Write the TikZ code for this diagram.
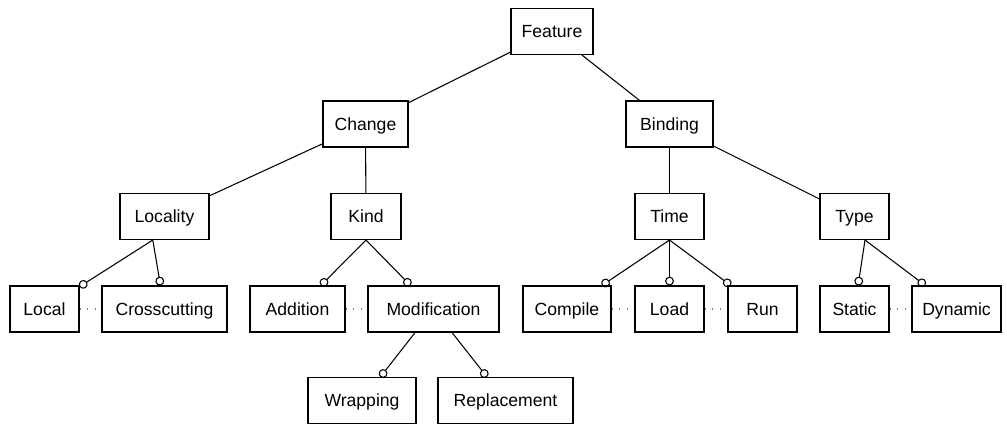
\documentclass[tikz,border=0pt]{standalone}
\usepackage{fontspec}
\setmainfont{Liberation Sans}
\usetikzlibrary{arrows.meta,calc}
\begin{document}
\begin{tikzpicture}[x=0.75pt,y=-0.75pt,
  feat/.style={draw, line width=0.8pt, inner sep=0pt, minimum height=34.5pt,
    text height=9.45pt, text depth=0pt,
    font=\fontsize{13.2}{15}\selectfont},
  mw/.style={minimum width=#1*0.75pt},
  link/.style={line width=0.8pt},
  opt/.style={line width=0.8pt, -{Circle[open,length=6.6pt,width=6.6pt]}},
  alt/.style={gray, line width=0.8pt, dash pattern=on 0.8pt off 5pt}]
\useasboundingbox (0,0) rectangle (1007,424);
% level 0
\node[feat,mw=82] (feature) at (552,31.5) {Feature};
% level 1
\node[feat,mw=85] (change) at (365.5,124) {Change};
\node[feat,mw=87] (binding) at (669.5,124) {Binding};
% level 2
\node[feat,mw=89] (locality) at (164.5,216.5) {Locality};
\node[feat,mw=70] (kind) at (366,216.5) {Kind};
\node[feat,mw=69] (time) at (669.5,216.5) {Time};
\node[feat,mw=69] (type) at (854.5,216.5) {Type};
% level 3
\node[feat,mw=69] (local) at (44.5,309) {Local};
\node[feat,mw=125] (cross) at (164.5,309) {Crosscutting};
\node[feat,mw=95] (addition) at (297.5,309) {Addition};
\node[feat,mw=131] (modif) at (433.5,309) {Modification};
\node[feat,mw=88] (compile) at (567,309) {Compile};
\node[feat,mw=69] (load) at (669.5,309) {Load};
\node[feat,mw=69] (run) at (762.5,309) {Run};
\node[feat,mw=69] (static) at (854.5,309) {Static};
\node[feat,mw=89] (dynamic) at (956.5,309) {Dynamic};
% level 4
\node[feat,mw=108] (wrapping) at (362,400.5) {Wrapping};
\node[feat,mw=135] (replacement) at (505.5,400.5) {Replacement};
% mandatory links
\draw[link] (feature) -- (change);
\draw[link] (feature) -- (binding);
\draw[link] (change) -- (locality);
\draw[link] (change) -- (kind);
\draw[link] (binding) -- (time);
\draw[link] (binding) -- (type);
% optional links
\coordinate (locJ) at ($(locality.south west)!0.37!(locality.south east)$);
\coordinate (typeJ) at ($(type.south west)!0.65!(type.south east)$);
\draw[opt] (locJ) -- (local);
\draw[opt] (locJ) -- (cross);
\draw[opt] (kind.south) -- (addition);
\draw[opt] (kind.south) -- (modif);
\draw[opt] (time.south) -- (compile);
\draw[opt] (time.south) -- (load);
\draw[opt] (time.south) -- (run);
\draw[opt] (typeJ) -- (static);
\draw[opt] (typeJ) -- (dynamic);
\draw[opt] (modif) -- (wrapping);
\draw[opt] (modif) -- (replacement);
% alternatives
\draw[alt] (local.east) -- (cross.west);
\draw[alt] (addition.east) -- (modif.west);
\draw[alt] (compile.east) -- (load.west);
\draw[alt] (load.east) -- (run.west);
\draw[alt] (static.east) -- (dynamic.west);
\end{tikzpicture}
\end{document}
